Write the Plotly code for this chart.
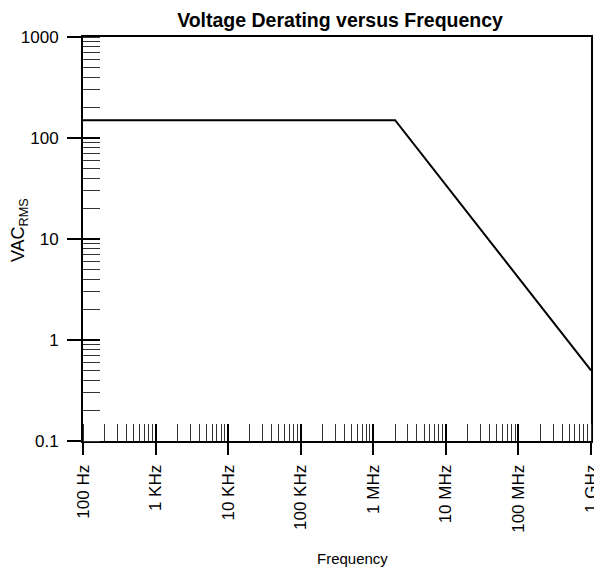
import plotly.graph_objects as go

# Data
freq_hz = [1e2, 2e6, 1e9]
vac_rms = [150, 150, 0.5]

x_tickvals = [1e2, 1e3, 1e4, 1e5, 1e6, 1e7, 1e8, 1e9]
x_ticktext = ["100 Hz", "1 KHz", "10 KHz", "100 KHz", "1 MHz", "10 MHz", "100 MHz", "1 GHz"]
y_tickvals = [0.1, 1, 10, 100, 1000]
y_ticktext = ["0.1", "1", "10", "100", "1000"]

FONT = "Liberation Sans, Arial, sans-serif"
INK = "#000000"

fig = go.Figure()
fig.add_trace(go.Scatter(x=freq_hz, y=vac_rms, mode="lines",
                         line=dict(color=INK, width=2), hoverinfo="skip",
                         showlegend=False))
# invisible trace to carry the overlay axes (inside major ticks)
fig.add_trace(go.Scatter(x=freq_hz, y=vac_rms, mode="lines", xaxis="x2", yaxis="y2",
                         line=dict(color="rgba(0,0,0,0)", width=0), hoverinfo="skip",
                         showlegend=False))

common = dict(showgrid=False, zeroline=False, tickfont=dict(family=FONT, size=17, color=INK))

# page has 8px body margin: figure is 594x566 placed at (8,8)
fig.update_layout(
    width=594, height=566,
    margin=dict(l=75, r=11, t=29, b=133),
    paper_bgcolor="white", plot_bgcolor="white",
    title=dict(text="<b>Voltage Derating versus Frequency</b>", x=0.559, xanchor="center",
               y=0.979, yanchor="middle",
               font=dict(family=FONT, size=19.5, color=INK)),
    xaxis=dict(type="log", range=[2, 9], tickvals=x_tickvals, ticktext=x_ticktext,
               tickangle=-90, ticks="outside", ticklen=12, tickcolor=INK, tickwidth=2,
               ticklabelstandoff=3,
               showline=True, linecolor=INK, linewidth=2, mirror=True,
               minor=dict(ticks="inside", ticklen=17, dtick="D1", tickcolor="#333", tickwidth=1),
               automargin=False, **common),
    yaxis=dict(type="log", range=[-1, 3], tickvals=y_tickvals, ticktext=y_ticktext,
               ticks="outside", ticklen=14, tickcolor=INK, tickwidth=2,
               ticklabelstandoff=5,
               showline=True, linecolor=INK, linewidth=2, mirror=True,
               minor=dict(ticks="inside", ticklen=17, dtick="D1", tickcolor="#333", tickwidth=1),
               automargin=False, **common),
    xaxis2=dict(type="log", range=[2, 9], overlaying="x", anchor="y2", side="bottom",
                tickvals=x_tickvals, showticklabels=False, ticks="inside", ticklen=17,
                tickcolor=INK, tickwidth=2, showgrid=False, zeroline=False, showline=False),
    yaxis2=dict(type="log", range=[-1, 3], overlaying="y", anchor="x2", side="left",
                tickvals=y_tickvals, showticklabels=False, ticks="inside", ticklen=17,
                tickcolor=INK, tickwidth=2, showgrid=False, zeroline=False, showline=False),
    annotations=[
        dict(text="Frequency", xref="paper", yref="paper", x=0.531, y=0, yshift=-117,
             xanchor="center", yanchor="middle", showarrow=False,
             font=dict(family=FONT, size=15, color=INK)),
        dict(text="VAC<sub>RMS</sub>", xref="paper", yref="paper", x=0, y=0.522, xshift=-64,
             xanchor="center", yanchor="middle", textangle=-90, showarrow=False,
             font=dict(family=FONT, size=18, color=INK)),
    ],
)

fig.write_html("out.html")
